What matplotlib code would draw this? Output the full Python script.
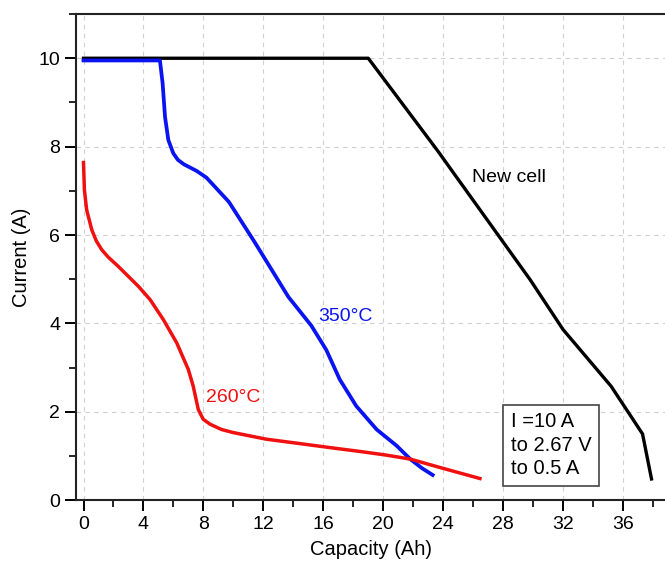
import numpy as np
import matplotlib.pyplot as plt
from matplotlib.ticker import MultipleLocator

plt.rcParams['font.family'] = ['Liberation Sans', 'DejaVu Sans']

# ── Data ──────────────────────────────────────────────────────────────────────

new_cap = [0, 19.0, 23.6, 29.8, 32.0, 35.2, 37.3, 37.9]
new_cur = [10.0, 10.0, 7.92, 4.99, 3.86, 2.58, 1.50, 0.48]

c350_cap = [0, 5.1, 5.28, 5.44, 5.66, 5.99, 6.3, 6.7, 7.55, 8.2, 8.8, 9.7,
            11.4, 13.67, 15.2, 16.2, 17.1, 18.2, 19.56, 20.9, 21.8, 22.6, 23.3]
c350_cur = [9.95, 9.95, 9.43, 8.67, 8.15, 7.85, 7.7, 7.6, 7.45, 7.3, 7.08, 6.75,
            5.85, 4.6, 3.95, 3.4, 2.73, 2.13, 1.6, 1.23, 0.93, 0.72, 0.57]

c260_cap = [0, 0.06, 0.21, 0.55, 0.85, 1.21, 1.65, 2.32, 3.66, 4.44, 5.32,
            6.22, 6.99, 7.32, 7.66, 7.99, 8.44, 9.2, 9.99, 12.2, 14.0, 16.44,
            18.5, 20.2, 21.8, 23.78, 26.45]
c260_cur = [7.64, 7.02, 6.57, 6.12, 5.87, 5.67, 5.5, 5.29, 4.84, 4.54, 4.09,
            3.56, 2.96, 2.58, 2.05, 1.83, 1.72, 1.6, 1.53, 1.38, 1.3, 1.19,
            1.1, 1.02, 0.93, 0.74, 0.49]

# ── Plot ──────────────────────────────────────────────────────────────────────

fig = plt.figure(figsize=(6.65, 5.62), dpi=100)
ax = fig.add_axes([0.1143, 0.110, 0.8857, 0.865])

ax.plot(new_cap, new_cur, color='black', lw=2.4, solid_joinstyle='round')
ax.plot(c350_cap, c350_cur, color='#0a14f0', lw=2.7, solid_joinstyle='round')
ax.plot(c260_cap, c260_cur, color='#f01010', lw=2.5, solid_joinstyle='round')

ax.text(25.9, 7.3, 'New cell', fontsize=14, color='black', va='center')
ax.text(15.65, 4.16, '350°C', fontsize=14, color='#0a14f0', va='center')
ax.text(8.15, 2.32, '260°C', fontsize=14, color='#f01010', va='center')

ax.text(28.5, 1.24, 'I =10 A\nto 2.67 V\nto 0.5 A', fontsize=14.5,
        va='center', ha='left', linespacing=1.3,
        bbox=dict(boxstyle='square,pad=0.38', fc='white', ec='#444444', lw=1.2))

ax.set_xlim(-0.5, 38.8)
ax.set_ylim(0, 11)
ax.xaxis.set_major_locator(MultipleLocator(4))
ax.xaxis.set_minor_locator(MultipleLocator(2))
ax.yaxis.set_major_locator(MultipleLocator(2))
ax.yaxis.set_minor_locator(MultipleLocator(1))
ax.tick_params(which='major', direction='out', length=8, width=1.4, labelsize=14)
ax.tick_params(which='minor', direction='out', length=5, width=1.2)
ax.grid(True, which='major', ls=(0, (4, 4)), color='#d0d0d0', lw=0.8)
ax.set_axisbelow(True)

for side in ['left', 'bottom', 'top']:
    ax.spines[side].set_linewidth(1.5)
    ax.spines[side].set_color('#222222')
ax.spines['right'].set_visible(False)

ax.set_xlabel('Capacity (Ah)', fontsize=14.5, labelpad=5)
ax.set_ylabel('Current (A)', fontsize=14.5, labelpad=5)

fig.savefig('out.png', dpi=100)
